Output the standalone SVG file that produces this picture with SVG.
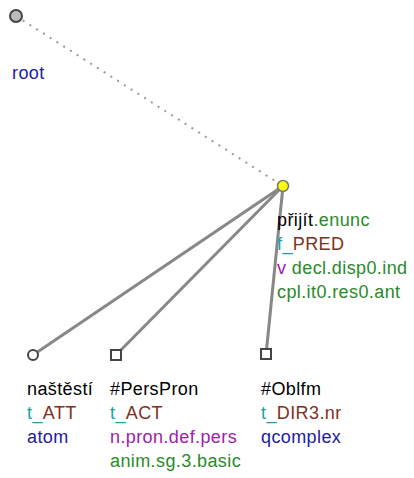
<svg xmlns="http://www.w3.org/2000/svg" width="414" height="478" viewBox="0 0 414 478">
<style>
text{font-family:"Liberation Sans",Arial,sans-serif;font-size:18px;letter-spacing:0.4px}
.k{fill:#000}.t{fill:#20a0a0}.b{fill:#7f3020}.g{fill:#2a8a2a}.p{fill:#a020a8}.d{fill:#2020a0}
.e{stroke:#888;stroke-width:3;fill:none}
.node{stroke:#444;stroke-width:2}
</style>
<rect width="414" height="478" fill="#fff"/>
<g id="connectors">
<line x1="16" y1="16" x2="283" y2="186" stroke="#999" stroke-width="2" stroke-dasharray="2 6"/>
<line class="e" x1="283" y1="186" x2="33" y2="355"/>
<line class="e" x1="283" y1="186" x2="116" y2="355"/>
<line class="e" x1="283" y1="186" x2="266" y2="355"/>
</g>
<g id="root">
<circle class="node" cx="16" cy="16" r="6" fill="#bbb"/>
<text x="12" y="79" class="d">root</text>
</g>
<g id="prijit">
<circle cx="283" cy="186" r="5.5" fill="#ffff00" stroke="#777" stroke-width="1.5"/>
<text x="277" y="226"><tspan class="k">přijít</tspan><tspan class="g">.enunc</tspan></text>
<text x="277" y="250"><tspan class="t">f_</tspan><tspan class="b">PRED</tspan></text>
<text x="277" y="274"><tspan class="p">v</tspan><tspan class="g"> decl.disp0.ind</tspan></text>
<text x="277" y="298" class="g">cpl.it0.res0.ant</text>
</g>
<g id="nastesti">
<circle class="node" cx="33" cy="355" r="5" fill="#fff"/>
<text x="27" y="395" class="k">naštěstí</text>
<text x="27" y="419"><tspan class="t">t_</tspan><tspan class="b">ATT</tspan></text>
<text x="27" y="443" class="d">atom</text>
</g>
<g id="perspron">
<rect class="node" x="111" y="350" width="10" height="10" fill="#fff"/>
<text x="110" y="395" class="k">#PersPron</text>
<text x="110" y="419"><tspan class="t">t_</tspan><tspan class="b">ACT</tspan></text>
<text x="110" y="443" class="p">n.pron.def.pers</text>
<text x="110" y="467" class="g">anim.sg.3.basic</text>
</g>
<g id="oblfm">
<rect class="node" x="261" y="349" width="10" height="10" fill="#fff"/>
<text x="261" y="395" class="k">#Oblfm</text>
<text x="261" y="419"><tspan class="t">t_</tspan><tspan class="b">DIR3.nr</tspan></text>
<text x="261" y="443" class="d">qcomplex</text>
</g>
</svg>
